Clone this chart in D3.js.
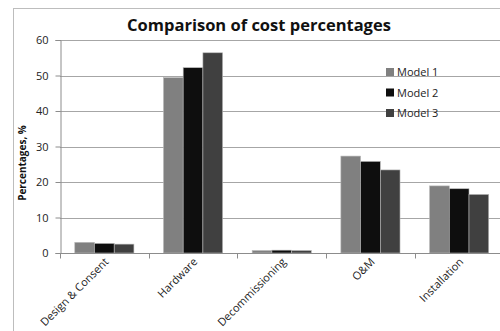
<!DOCTYPE html>
<html>
<head>
<meta charset="utf-8">
<script src="https://cdn.jsdelivr.net/npm/d3@7"></script>
<style>
  html, body { margin: 0; padding: 0; background: #fff; }
  svg { display: block; }
  text { font-family: "Open Sans", "DejaVu Sans", sans-serif; }
</style>
</head>
<body>
<svg id="chart" width="500" height="331"></svg>
<script>
// Cost shares per project phase (%)
const categories = ["Design & Consent", "Hardware", "Decommissioning", "O&M", "Installation"];
const seriesNames = ["Model 1", "Model 2", "Model 3"];
const model1 = [3.0, 49.4, 0.7, 27.3, 18.9];
const model2 = [2.7, 52.2, 0.8, 25.8, 18.1];
const model3 = [2.5, 56.4, 0.7, 23.4, 16.5];
const yTicks = [0, 10, 20, 30, 40, 50, 60];
const colors = ["#808080", "#0e0e0e", "#404040"];

const seriesValues = [model1, model2, model3];
const rows = categories.map((c, i) => ({
  category: c,
  values: seriesValues.map((s, j) => ({ key: seriesNames[j], value: s[i] }))
}));

const svg = d3.select("#chart");

// outer chart frame
svg.append("rect")
  .attr("x", 13.5).attr("y", 8.5)
  .attr("width", 500).attr("height", 340)
  .attr("fill", "none").attr("stroke", "#bdbdbd").attr("stroke-width", 1);

const plot = { left: 60, right: 503.5, top: 40, bottom: 253 };

const y = d3.scaleLinear().domain([0, 60]).range([plot.bottom, plot.top]);
const x0 = d3.scaleBand().domain(categories).range([plot.left, plot.right]).padding(0);
// three bars with a 150% gap between groups
const x1 = d3.scaleBand().domain(seriesNames)
  .range([0, x0.bandwidth()]).paddingInner(0).paddingOuter(0.75);

// horizontal gridlines
svg.append("g")
  .selectAll("line")
  .data(yTicks.filter(d => d > 0))
  .join("line")
  .attr("x1", plot.left).attr("x2", plot.right)
  .attr("y1", d => Math.round(y(d)) + 0.5).attr("y2", d => Math.round(y(d)) + 0.5)
  .attr("stroke", "#a6a6a6").attr("stroke-width", 1);

// bars
svg.append("g")
  .selectAll("g")
  .data(rows)
  .join("g")
  .attr("transform", d => `translate(${x0(d.category)},0)`)
  .selectAll("rect")
  .data(d => d.values)
  .join("rect")
  .attr("x", d => x1(d.key))
  .attr("width", x1.bandwidth())
  .attr("y", d => y(d.value))
  .attr("height", d => y(0) - y(d.value))
  .attr("fill", (d, i) => colors[i])
  .attr("stroke", "#b8b8b8").attr("stroke-width", 0.6);

// y axis
const yAxis = svg.append("g")
  .attr("transform", `translate(${plot.left + 0.5},0)`)
  .call(d3.axisLeft(y).tickValues(yTicks).tickSize(5).tickPadding(7));
yAxis.select(".domain").attr("stroke", "#8c8c8c");
yAxis.selectAll(".tick line").attr("stroke", "#8c8c8c").attr("transform", "translate(0,0)");
yAxis.selectAll(".tick text").attr("font-size", 11).attr("fill", "#222")
  .style("font-family", "'Open Sans', sans-serif");

// x axis (ticks at category boundaries)
const xAxisG = svg.append("g").attr("transform", `translate(0,${plot.bottom + 0.5})`);
xAxisG.append("line")
  .attr("x1", plot.left).attr("x2", plot.right)
  .attr("stroke", "#8c8c8c");
xAxisG.selectAll("line.tk")
  .data(categories)
  .join("line").attr("class", "tk")
  .attr("x1", d => Math.round(x0(d)) + 0.5).attr("x2", d => Math.round(x0(d)) + 0.5)
  .attr("y1", 0).attr("y2", 5)
  .attr("stroke", "#8c8c8c");
xAxisG.selectAll("text")
  .data(categories)
  .join("text")
  .attr("transform", d => `translate(${x0(d) + x0.bandwidth() / 2 + 5},${9}) rotate(-45)`)
  .attr("text-anchor", "end")
  .attr("font-size", 11)
  .attr("fill", "#222")
  .text(d => d);

// title
svg.append("text")
  .attr("x", 259).attr("y", 31)
  .attr("text-anchor", "middle")
  .attr("font-size", 16.5).attr("font-weight", "bold")
  .attr("fill", "#111")
  .text("Comparison of cost percentages");

// y axis title
svg.append("text")
  .attr("transform", "translate(26,163) rotate(-90)")
  .attr("text-anchor", "middle")
  .attr("font-size", 10).attr("font-weight", "bold")
  .attr("fill", "#111")
  .text("Percentages, %");

// legend
const legend = svg.append("g");
const li = legend.selectAll("g")
  .data(seriesNames)
  .join("g")
  .attr("transform", (d, i) => `translate(386,${72 + i * 20.5})`);
li.append("rect")
  .attr("x", 0).attr("y", -4).attr("width", 8).attr("height", 8)
  .attr("fill", (d, i) => colors[i]);
li.append("text")
  .attr("x", 11).attr("y", 4)
  .attr("font-size", 11).attr("fill", "#222")
  .text(d => d);
</script>
</body>
</html>
